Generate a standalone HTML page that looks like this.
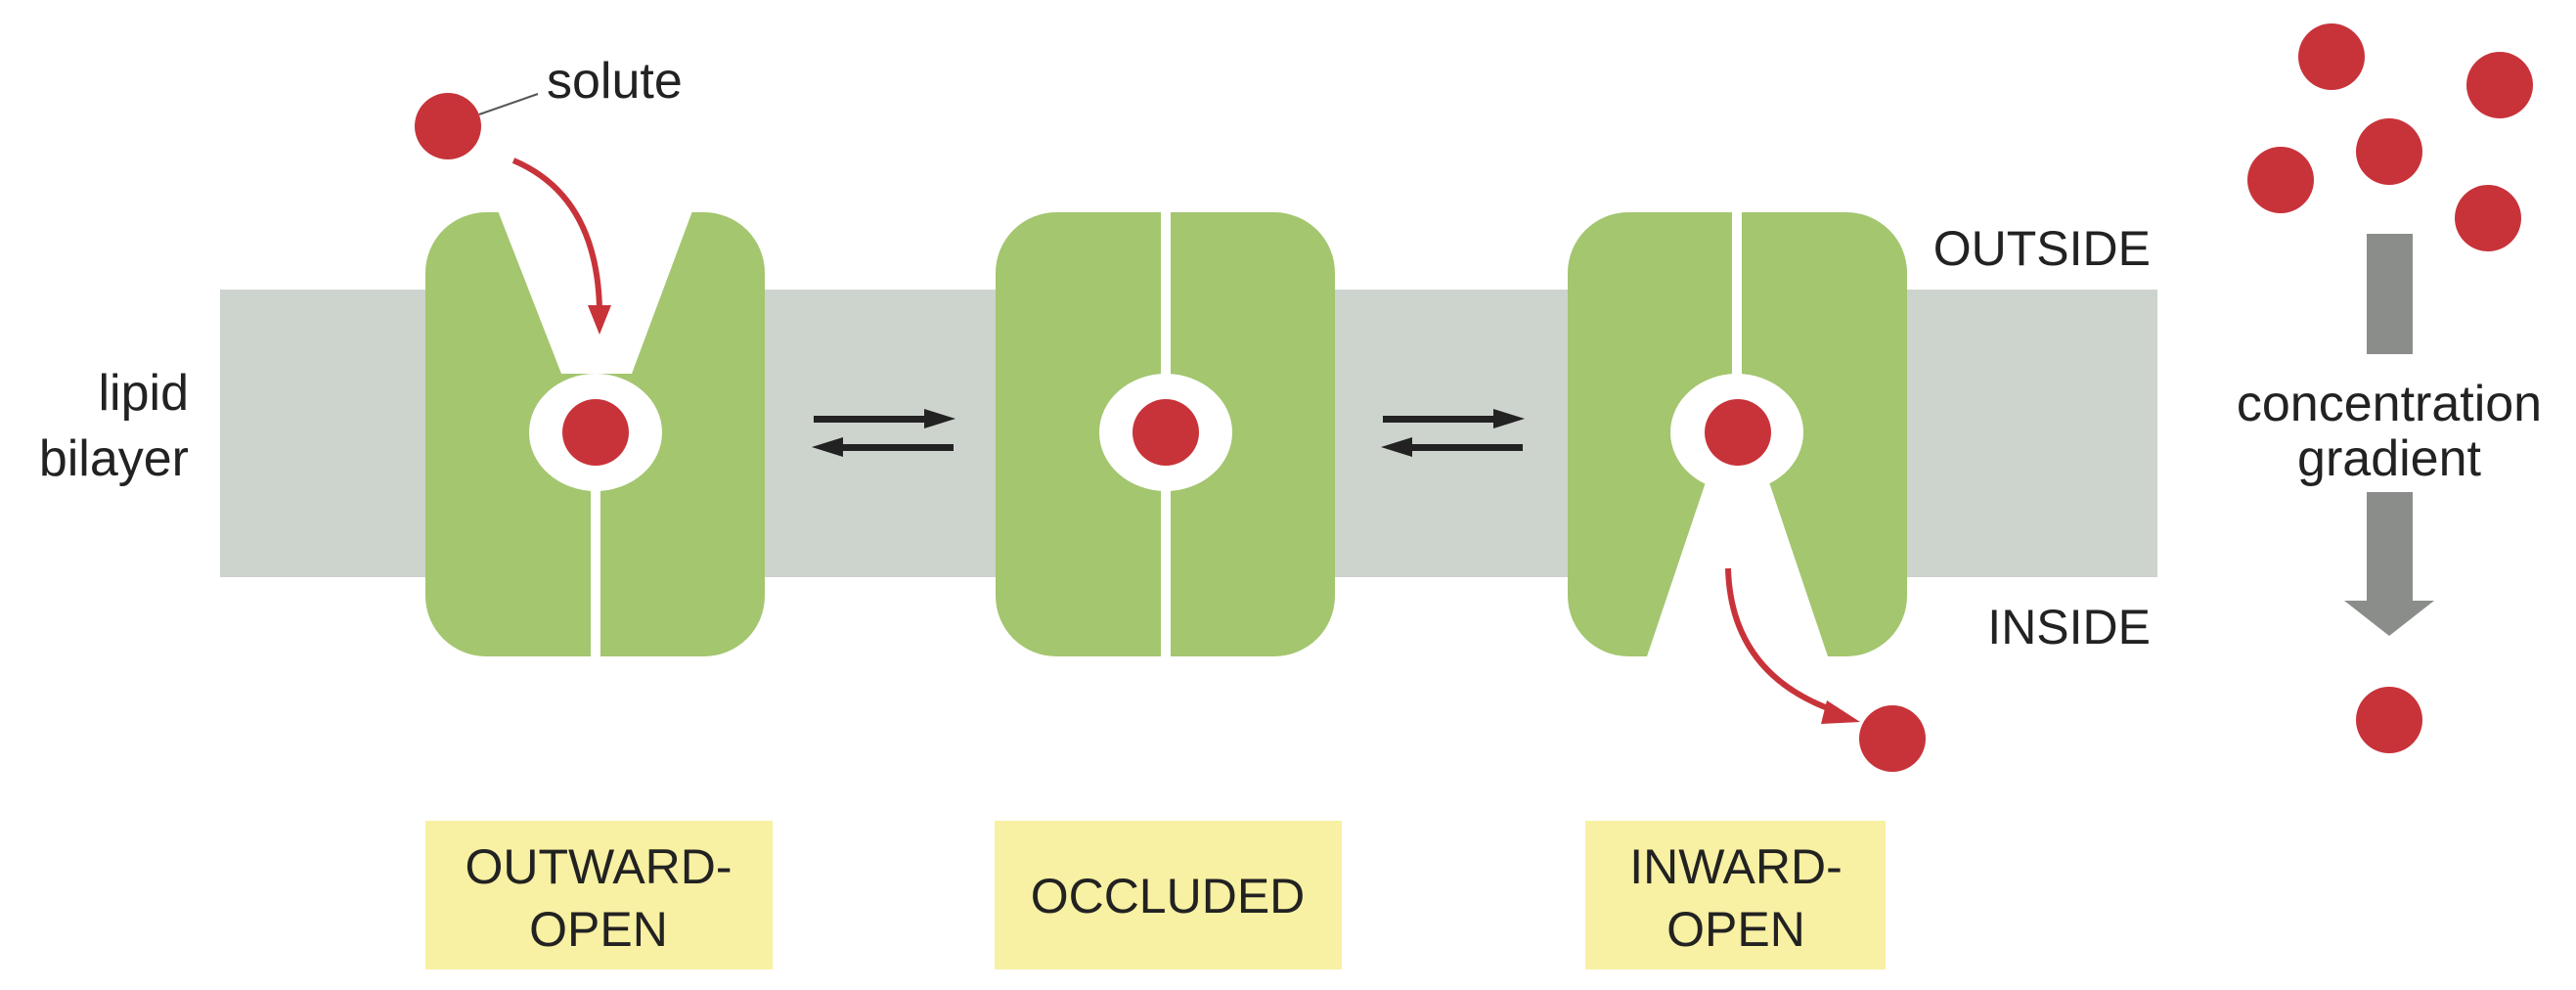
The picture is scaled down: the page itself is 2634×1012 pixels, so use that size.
<!DOCTYPE html>
<html><head><meta charset="utf-8"><style>html,body{margin:0;padding:0;background:#fff;overflow:hidden}svg{display:block}</style></head>
<body>
<svg width="2634" height="1012" viewBox="0 0 2634 1012" xmlns="http://www.w3.org/2000/svg" font-family="Liberation Sans, sans-serif">
<!-- bilayer -->
<rect x="225" y="296" width="1981" height="294" fill="#cdd3cd"/>
<!-- transporter 1 -->
<rect x="435" y="217" width="347" height="454" rx="62" fill="#a3c66f"/>
<polygon points="505,205 712,205 646,382 574,382" fill="#fff"/>
<ellipse cx="609" cy="442" rx="68" ry="60" fill="#fff"/>
<rect x="604" y="490" width="10" height="190" fill="#fff"/>
<circle cx="609" cy="442" r="34" fill="#c8333a"/>
<!-- transporter 2 -->
<rect x="1018" y="217" width="347" height="454" rx="62" fill="#a3c66f"/>
<rect x="1187" y="210" width="10" height="470" fill="#fff"/>
<ellipse cx="1192" cy="442" rx="68" ry="60" fill="#fff"/>
<circle cx="1192" cy="442" r="34" fill="#c8333a"/>
<!-- transporter 3 -->
<rect x="1603" y="217" width="347" height="454" rx="62" fill="#a3c66f"/>
<rect x="1771" y="210" width="10" height="190" fill="#fff"/>
<ellipse cx="1776" cy="442" rx="68" ry="60" fill="#fff"/>
<polygon points="1745,490 1808,490 1872,680 1681,680" fill="#fff"/>
<circle cx="1777" cy="442" r="34" fill="#c8333a"/>
<!-- equilibrium arrows -->
<g fill="#222">
<rect x="832" y="425" width="120" height="7"/><polygon points="945,418 977,428 945,438"/>
<rect x="855" y="454" width="120" height="7"/><polygon points="862,447 830,457 862,467"/>
<rect x="1414" y="425" width="120" height="7"/><polygon points="1527,418 1559,428 1527,438"/>
<rect x="1437" y="454" width="120" height="7"/><polygon points="1444,447 1412,457 1444,467"/>
</g>
<!-- solute -->
<circle cx="458" cy="129" r="34" fill="#c8333a"/>
<line x1="490" y1="117" x2="550" y2="96" stroke="#555" stroke-width="2"/>
<text x="559" y="100" font-size="52" fill="#222">solute</text>
<path d="M525,164 Q610,200 613,315" fill="none" stroke="#c8333a" stroke-width="6"/>
<polygon points="601,312 625,312 613,342" fill="#c8333a"/>
<path d="M1767,581 Q1770,691 1880,728" fill="none" stroke="#c8333a" stroke-width="6"/>
<polygon points="1868,716 1902,738 1862,740" fill="#c8333a"/>
<circle cx="1935" cy="755" r="34" fill="#c8333a"/>
<!-- labels -->
<text x="193" y="419" font-size="52" fill="#222" text-anchor="end">lipid</text>
<text x="193" y="486" font-size="52" fill="#222" text-anchor="end">bilayer</text>
<text x="2199" y="271" font-size="50" fill="#222" text-anchor="end">OUTSIDE</text>
<text x="2199" y="658" font-size="50" fill="#222" text-anchor="end">INSIDE</text>
<!-- gradient -->
<g fill="#c8333a">
<circle cx="2384" cy="58" r="34"/><circle cx="2556" cy="87" r="34"/><circle cx="2443" cy="155" r="34"/>
<circle cx="2332" cy="184" r="34"/><circle cx="2544" cy="223" r="34"/><circle cx="2443" cy="736" r="34"/>
</g>
<rect x="2420" y="239" width="47" height="123" fill="#8a8d8a"/>
<rect x="2420" y="503" width="47" height="115" fill="#8a8d8a"/>
<polygon points="2397,614 2489,614 2443,650" fill="#8a8d8a"/>
<text x="2443" y="430" font-size="52" fill="#222" text-anchor="middle">concentration</text>
<text x="2443" y="486" font-size="52" fill="#222" text-anchor="middle">gradient</text>
<!-- state boxes -->
<rect x="435" y="839" width="355" height="152" fill="#f8f0a2"/>
<rect x="1017" y="839" width="355" height="152" fill="#f8f0a2"/>
<rect x="1621" y="839" width="307" height="152" fill="#f8f0a2"/>
<g font-size="50" fill="#222" text-anchor="middle">
<text x="612" y="903">OUTWARD-</text><text x="612" y="967">OPEN</text>
<text x="1194" y="933">OCCLUDED</text>
<text x="1775" y="903">INWARD-</text><text x="1775" y="967">OPEN</text>
</g>
</svg>
</body></html>
